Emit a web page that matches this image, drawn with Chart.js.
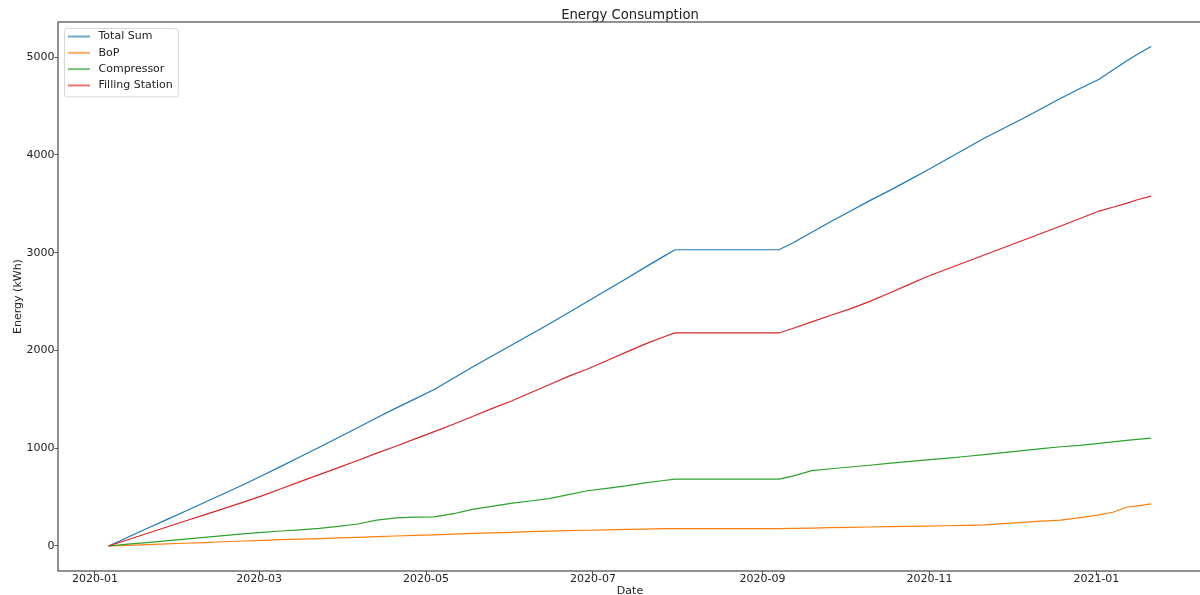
<!DOCTYPE html>
<html>
<head>
<meta charset="utf-8">
<title>Energy Consumption</title>
<script src="https://cdn.jsdelivr.net/npm/chart.js@4.4.1/dist/chart.umd.min.js"></script>
<style>
  html, body { margin: 0; padding: 0; overflow: hidden; background: #fff; width: 1200px; height: 595px; }
  canvas { display: block; }
</style>
</head>
<body>
<canvas id="energy" width="1203" height="602"></canvas>
<script>
// Sample dates (cumulative meter readings)
const dates = [
  '2020-01-06','2020-01-13','2020-01-20','2020-01-27','2020-02-03','2020-02-10','2020-02-17','2020-02-24',
  '2020-03-02','2020-03-09','2020-03-16','2020-03-23','2020-03-30','2020-04-06','2020-04-13','2020-04-20',
  '2020-04-27','2020-05-04','2020-05-11','2020-05-18','2020-05-25','2020-06-01','2020-06-08','2020-06-15',
  '2020-06-22','2020-06-29','2020-07-06','2020-07-13','2020-07-20','2020-07-27','2020-07-31',
  '2020-09-07','2020-09-12','2020-09-19','2020-09-26','2020-10-03','2020-10-10','2020-10-17','2020-10-24',
  '2020-10-31','2020-11-07','2020-11-14','2020-11-21','2020-11-28','2020-12-05','2020-12-12','2020-12-19',
  '2020-12-26','2021-01-02','2021-01-07','2021-01-12','2021-01-16','2021-01-21'
];

// Cumulative energy in kWh
const totalSum = [
  0, 89, 178, 267, 356, 445, 534, 624, 718, 814, 912, 1010, 1110, 1210, 1312, 1410,
  1505, 1600, 1715, 1830, 1940, 2050, 2160, 2270, 2385, 2500, 2615, 2730, 2850, 2965, 3030,
  3030, 3100, 3210, 3320, 3425, 3530, 3630, 3735, 3840, 3950, 4060, 4170, 4270, 4370, 4475,
  4580, 4680, 4775, 4870, 4962, 5030, 5110
];
const bop = [
  0, 7, 14, 21, 28, 35, 43, 51, 58, 64, 70, 76, 82, 88, 95, 102,
  108, 114, 121, 128, 134, 140, 146, 151, 156, 161, 165, 169, 173, 177, 178,
  178, 180, 183, 187, 190, 194, 197, 200, 204, 207, 211, 216, 228, 242, 255,
  265, 290, 318, 345, 396, 410, 430
];
const compressor = [
  0, 18, 35, 52, 70, 88, 105, 123, 140, 153, 165, 180, 200, 225, 265, 288,
  295, 298, 330, 375, 405, 435, 460, 485, 525, 565, 590, 615, 645, 670, 683,
  683, 715, 770, 790, 808, 826, 845, 862, 880, 897, 915, 935, 955, 975, 995,
  1015, 1030, 1050, 1065, 1080, 1090, 1103
];
const fillingStation = [
  0, 64, 128, 191, 255, 318, 382, 446, 512, 585, 658, 730, 802, 875, 950, 1020,
  1095, 1170, 1245, 1325, 1405, 1480, 1565, 1650, 1735, 1810, 1895, 1980, 2065, 2140, 2179,
  2179, 2225, 2292, 2360, 2425, 2500, 2582, 2668, 2754, 2828, 2903, 2977, 3051, 3125, 3199,
  3273, 3350, 3426, 3465, 3505, 3542, 3579
];

// Axis ticks
const xTickDates = ['2020-01-01','2020-03-01','2020-05-01','2020-07-01','2020-09-01','2020-11-01','2021-01-01'];
const xTickLabels = ['2020-01','2020-03','2020-05','2020-07','2020-09','2020-11','2021-01'];
const yTicks = [0, 1000, 2000, 3000, 4000, 5000];

const FONT = 'DejaVu Sans';
const TEXT = '#222';
const AXIS = '#555';
const COLORS = ['#1f77b4', '#ff7f0e', '#2ca02c', '#d62728'];

// Dates are placed on a linear day axis (days since 2020-01-01)
const EPOCH = Date.UTC(2020, 0, 1);
function dayOf(iso) {
  const [y, m, d] = iso.split('-').map(Number);
  return (Date.UTC(y, m - 1, d) - EPOCH) / 86400000;
}
const xDays = dates.map(dayOf);
const xTickDays = xTickDates.map(dayOf);
const toPoints = arr => arr.map((v, i) => ({ x: xDays[i], y: v }));

// Short line swatch for legend entries
function swatch(color) {
  const c = document.createElement('canvas');
  c.width = 25; c.height = 4;
  const g = c.getContext('2d');
  g.strokeStyle = color; g.lineWidth = 1.3;
  g.beginPath(); g.moveTo(0, 2); g.lineTo(22, 2); g.stroke();
  return c;
}
const swatches = COLORS.map(swatch);

const LEGEND_PAD = 5.3;

// Place the legend in the upper-left corner of the plot area
const legendPlacement = {
  id: 'legendPlacement',
  afterLayout(chart) {
    const lg = chart.legend;
    const ca = chart.chartArea;
    const w = lg.width, h = lg.height;
    lg.left = ca.left + 4.7;
    lg.top = ca.top + 3.7;
    lg.right = lg.left + w;
    lg.bottom = lg.top + h;
  },
  beforeDraw(chart) {
    const lg = chart.legend;
    if (!lg || !lg.legendItems) return;
    const ctx = chart.ctx;
    const n = lg.legendItems.length;
    const fontSize = 11;
    const boxW = 25;
    ctx.save();
    ctx.font = fontSize + 'px "' + FONT + '"';
    let maxW = 0;
    lg.legendItems.forEach(it => { maxW = Math.max(maxW, boxW + fontSize / 2 + ctx.measureText(it.text).width); });
    const itemX = lg.left + LEGEND_PAD;
    const itemY = lg.top + LEGEND_PAD;
    const x0 = itemX - 4, y0 = itemY - 3;
    const x1 = itemX + maxW + 5;
    const y1 = itemY + n * fontSize + (n - 1) * LEGEND_PAD + 5.5;
    ctx.beginPath();
    ctx.roundRect(x0 + 0.5, y0 + 0.5, x1 - x0, y1 - y0, 3);
    ctx.fillStyle = 'rgba(255,255,255,0.8)';
    ctx.fill();
    ctx.strokeStyle = '#d6d6d6';
    ctx.lineWidth = 1;
    ctx.stroke();
    ctx.restore();
  }
};

// Frame around the plot area
const plotFrame = {
  id: 'plotFrame',
  afterDatasetsDraw(chart) {
    const { ctx, chartArea: a } = chart;
    ctx.save();
    ctx.strokeStyle = AXIS;
    ctx.lineWidth = 1.3;
    ctx.strokeRect(a.left, a.top, a.right - a.left, a.bottom - a.top);
    ctx.restore();
  }
};

const series = [
  { label: 'Total Sum', data: totalSum },
  { label: 'BoP', data: bop },
  { label: 'Compressor', data: compressor },
  { label: 'Filling Station', data: fillingStation }
];

new Chart(document.getElementById('energy'), {
  type: 'line',
  data: {
    datasets: series.map((s, i) => ({
      label: s.label,
      data: toPoints(s.data),
      borderColor: COLORS[i],
      backgroundColor: COLORS[i],
      borderWidth: 1.2,
      pointRadius: 0,
      pointHoverRadius: 0,
      tension: 0,
      fill: false,
      order: series.length - i
    }))
  },
  options: {
    responsive: false,
    animation: false,
    devicePixelRatio: 1,
    layout: { padding: { left: 0, right: 1, top: 0, bottom: 0 } },
    plugins: {
      tooltip: { enabled: false },
      title: {
        display: true,
        fullSize: false,
        text: 'Energy Consumption',
        color: TEXT,
        font: { family: FONT, size: 13.2, weight: 'normal', lineHeight: 1 },
        padding: { top: 9.3, bottom: -0.5 }
      },
      legend: {
        position: 'chartArea',
        align: 'start',
        labels: {
          usePointStyle: true,
          pointStyleWidth: 25,
          padding: LEGEND_PAD,
          color: TEXT,
          font: { family: FONT, size: 11 },
          generateLabels(chart) {
            const items = Chart.defaults.plugins.legend.labels.generateLabels(chart);
            items.sort((a, b) => a.datasetIndex - b.datasetIndex);
            items.forEach(it => { it.pointStyle = swatches[it.datasetIndex]; it.lineWidth = 0; });
            return items;
          }
        }
      }
    },
    scales: {
      x: {
        type: 'linear',
        min: -13.5,
        max: 404.6,
        border: { display: false },
        grid: { display: true, drawOnChartArea: false, drawTicks: true, tickLength: 4, tickColor: AXIS },
        ticks: {
          autoSkip: false,
          maxRotation: 0,
          padding: -2,
          color: TEXT,
          font: { family: FONT, size: 11 },
          callback(value) {
            const k = xTickDays.indexOf(value);
            return k >= 0 ? xTickLabels[k] : '';
          }
        },
        afterBuildTicks(scale) { scale.ticks = xTickDays.map(v => ({ value: v })); },
        afterFit(scale) { scale.height = 31; },
        title: {
          display: true,
          text: 'Date',
          color: TEXT,
          font: { family: FONT, size: 11 },
          padding: { top: 0, bottom: 4.4 }
        }
      },
      y: {
        type: 'linear',
        min: -256,
        max: 5360,
        border: { display: false },
        grid: { display: true, drawOnChartArea: false, drawTicks: true, tickLength: 3.5, tickColor: AXIS },
        ticks: {
          padding: 0,
          color: TEXT,
          font: { family: FONT, size: 11 },
          callback(value) { return String(value); }
        },
        afterBuildTicks(scale) { scale.ticks = yTicks.map(v => ({ value: v })); },
        afterFit(scale) { scale.width = 58; },
        title: {
          display: true,
          text: 'Energy (kWh)',
          color: TEXT,
          font: { family: FONT, size: 11 },
          padding: { top: 12, bottom: 0 }
        }
      }
    }
  },
  plugins: [legendPlacement, plotFrame]
});
</script>
</body>
</html>
